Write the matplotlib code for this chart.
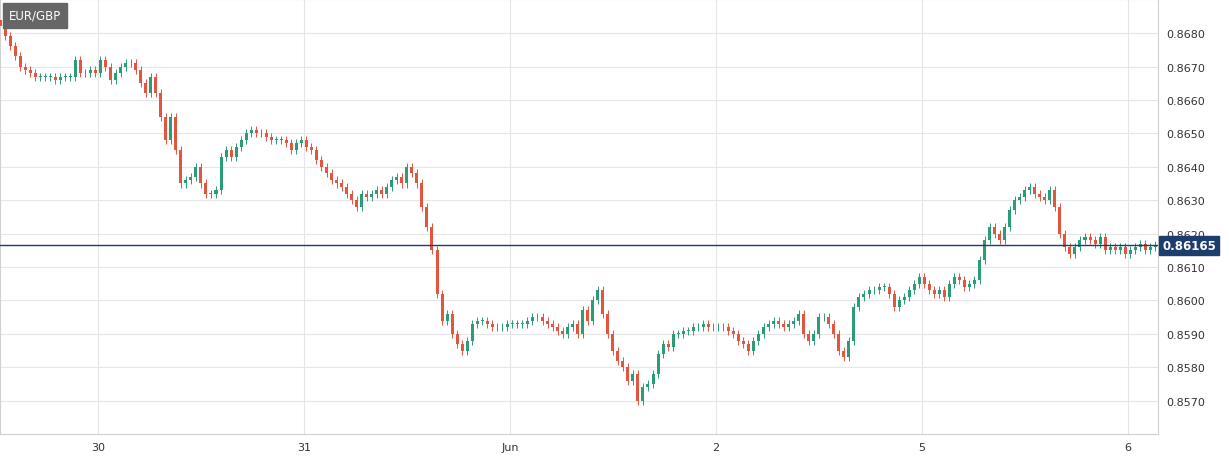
import matplotlib.pyplot as plt
import numpy as np

# close prices, pips above 0.8500, one candle per slot
closes = [182,179,176,173,170,169,168,167,167,167,167,166,167,167,167,172,168,168,169,168,
          172,170,166,168,170,171,171,169,165,162,167,162,155,148,155,145,135,136,137,140,
          135,132,132,133,143,145,143,146,148,150,151,150,150,149,148,148,148,147,145,147,
          148,146,145,142,140,138,136,135,134,132,130,128,132,131,132,133,132,134,136,137,
          135,140,138,135,128,122,115,102,94,96,90,87,85,88,93,94,94,93,92,92,
          92,93,93,93,93,94,95,95,94,93,92,91,90,92,93,90,97,94,100,103,
          96,90,85,82,80,76,78,70,74,75,78,84,87,86,90,90,91,91,92,92,
          93,92,92,92,92,91,90,88,87,85,88,90,92,93,94,93,92,93,94,96,
          90,88,90,95,95,93,90,85,83,88,98,101,102,103,103,104,104,102,98,100,
          101,103,105,107,105,103,102,103,101,105,107,106,104,105,106,112,118,122,120,118,
          122,127,130,131,133,134,132,131,130,133,128,120,116,114,116,118,119,118,117,119,
          115,116,115,116,114,115,116,117,115,116,116.5]
first_open = 184
day_labels = ["30", "31", "Jun", "2", "5", "6"]
price_ticks = [0.8570, 0.8580, 0.8590, 0.8600, 0.8610, 0.8620, 0.8630, 0.8640, 0.8650, 0.8660, 0.8670, 0.8680]
last_price = 0.86165
symbol = "EUR/GBP"

GREEN = "#2a9d78"
RED = "#e4553f"
NAVY = "#1e3d6f"

c = 0.85 + np.array(closes) / 10000
o = np.concatenate([[0.85 + first_open / 10000], c[:-1]])
hi = np.maximum(o, c) + 0.00012
lo = np.minimum(o, c) - 0.00012
step = 1 / 41
x = -98 / 206 + step * np.arange(len(c))

fig = plt.figure(figsize=(12.29, 4.6), dpi=100)
ax = fig.add_axes([0.0, 0.054, 0.942, 0.946])
ax.set_facecolor("white")

cols = [GREEN if cc >= oo else RED for oo, cc in zip(o, c)]
ax.vlines(x, lo, hi, colors=cols, linewidth=0.7, zorder=2)
ax.bar(x, np.maximum(np.abs(c - o), 0.00002), bottom=np.minimum(o, c), width=step * 0.6,
       color=cols, zorder=3)

ax.axhline(last_price, color=NAVY, linewidth=1, zorder=4)

ax.set_xlim(-98 / 206, 1158 / 206 - 98 / 206)
ax.set_ylim(0.8560, 0.86902)
ax.set_xticks(range(len(day_labels)))
ax.set_xticklabels(day_labels)
ax.set_yticks(price_ticks)
ax.set_yticklabels([f"{p:.4f}" for p in price_ticks])
ax.yaxis.tick_right()
ax.tick_params(axis="both", length=0, labelsize=8, colors="#333333", pad=6)
ax.grid(True, color="#e6e6e6", linewidth=0.8, zorder=0)
for s in ax.spines.values():
    s.set_color("#d0d0d0")

ax.text(1.004, last_price, f"{last_price:.5f}", transform=ax.get_yaxis_transform(),
        va="center", ha="left", fontsize=8.5, fontweight="bold", color="white",
        bbox=dict(boxstyle="square,pad=0.25", fc=NAVY, ec=NAVY), clip_on=False)
ax.text(0.008, 0.963, symbol, transform=ax.transAxes, va="center", ha="left",
        fontsize=8.5, color="white",
        bbox=dict(boxstyle="square,pad=0.5", fc="#666666", ec="#666666"))

fig.savefig("out.png", dpi=100)
